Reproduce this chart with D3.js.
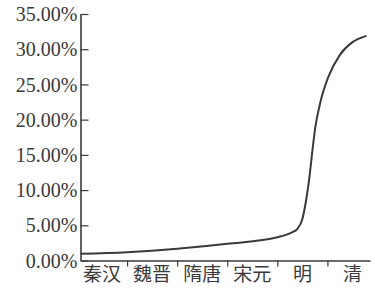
<!DOCTYPE html>
<html>
<head>
<meta charset="utf-8">
<script src="https://cdn.jsdelivr.net/npm/d3@7"></script>
<style>
  body { margin: 0; background: #fff; }
  svg { display: block; }
</style>
</head>
<body>
<div id="chart"></div>
<script>
// categories along the x axis (one band each)
const categories = ['秦汉', '魏晋', '隋唐', '宋元', '明', '清'];
// curve: position in band units, share in %
const curveX = [0.07, 1.0, 2.0, 3.0, 4.0, 4.28, 4.4, 4.5, 4.58, 4.64, 4.7, 4.76, 4.86, 5.02, 5.25, 5.5, 5.78];
const curveY = [0.95, 1.18, 1.66, 2.37, 3.3, 3.95, 4.5, 5.9, 8.8, 11.8, 15.6, 19.0, 22.5, 26.1, 29.2, 31.0, 31.9];
const yTicks = [0, 5, 10, 15, 20, 25, 30, 35];
const xTicks = [1, 2, 3, 4, 5];

const w = 375, h = 289;
const ink = '#3a3a3a';

const svg = d3.select('#chart')
    .append('svg')
    .attr('width', w)
    .attr('height', h);

const x = d3.scaleLinear()
    .domain([0.07, 5.85])
    .range([80.5, 370]);

const y = d3.scaleLinear()
    .domain([0, 35])
    .range([260.5, 14]);

// y axis, ticks pointing inward
const yAxis = d3.axisLeft(y)
    .tickValues(yTicks)
    .tickFormat(d => d3.format('.2f')(d) + '%')
    .tickSizeInner(-8)
    .tickSizeOuter(0)
    .tickPadding(3);

const gy = svg.append('g')
    .attr('transform', 'translate(80.5,0)')
    .call(yAxis);

gy.select('.domain').attr('stroke', ink).attr('stroke-width', 1.6);
gy.selectAll('.tick line').attr('stroke', ink).attr('stroke-width', 1.2);
gy.selectAll('.tick text')
    .attr('fill', ink)
    .attr('font-family', '"Liberation Serif", "DejaVu Serif", serif')
    .attr('font-size', 20)
    .attr('dy', '0.33em');

// x axis, small boundary marks
const xAxis = d3.axisBottom(x)
    .tickValues(xTicks)
    .tickFormat('')
    .tickSizeInner(6)
    .tickSizeOuter(0);

const gx = svg.append('g')
    .attr('transform', `translate(0,${y(0)})`)
    .call(xAxis);

gx.select('.domain').attr('stroke', ink).attr('stroke-width', 1.6);
gx.selectAll('.tick line').attr('stroke', ink).attr('stroke-width', 1.2);

// category labels centred in their bands
svg.append('g')
    .selectAll('text')
    .data(categories)
    .join('text')
      .attr('x', (d, i) => x(i + 0.5))
      .attr('y', 281)
      .attr('text-anchor', 'middle')
      .attr('fill', ink)
      .attr('font-family', '"Noto Sans CJK SC", sans-serif')
      .attr('font-size', 19)
      .text(d => d);

// the curve
const pts = curveX.map((v, i) => [v, curveY[i]]);

const line = d3.line()
    .x(d => x(d[0]))
    .y(d => y(d[1]))
    .curve(d3.curveMonotoneX);

svg.append('path')
    .datum(pts)
    .attr('d', line)
    .attr('fill', 'none')
    .attr('stroke', ink)
    .attr('stroke-width', 2);
</script>
</body>
</html>
